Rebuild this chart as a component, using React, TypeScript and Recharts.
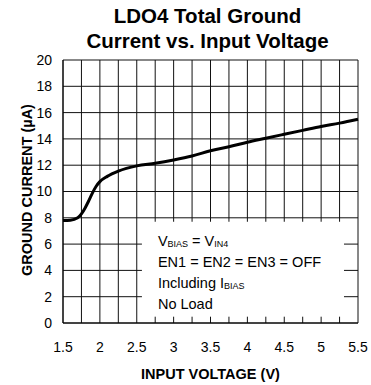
import { CartesianGrid, Line, LineChart, ReferenceArea, XAxis, YAxis } from "recharts";

// input voltage (V) and total ground current (uA)
const voltage = [1.5, 1.6, 1.7, 1.75, 1.8, 1.85, 1.9, 1.95, 2.0, 2.1, 2.25, 2.5, 2.75, 3.0, 3.25, 3.5, 3.75, 4.0, 4.25, 4.5, 4.75, 5.0, 5.25, 5.5];
const groundCurrent = [7.8, 7.82, 8.0, 8.3, 8.75, 9.3, 9.9, 10.4, 10.75, 11.15, 11.55, 11.95, 12.15, 12.4, 12.7, 13.1, 13.4, 13.75, 14.05, 14.35, 14.65, 14.95, 15.2, 15.5];

const xGridTicks = [1.5, 1.75, 2, 2.25, 2.5, 2.75, 3, 3.25, 3.5, 3.75, 4, 4.25, 4.5, 4.75, 5, 5.25, 5.5];
const xLabelTicks = [1.5, 2, 2.5, 3, 3.5, 4, 4.5, 5, 5.5];
const yTicks = [0, 2, 4, 6, 8, 10, 12, 14, 16, 18, 20];

const titleLines = ["LDO4 Total Ground", "Current vs. Input Voltage"];
const xTitle = "INPUT VOLTAGE (V)";
const yTitle = "GROUND CURRENT (µA)";

const data = voltage.map((v, i) => ({ v, i: groundCurrent[i] }));

const FONT = "'Liberation Sans', Arial, sans-serif";

// white box over the grid with the test conditions written in it
function NoteBox(props: any) {
  const { x, y, width, height } = props;
  const tx = x + 16;
  return (
    <g>
      <rect x={x} y={y} width={width} height={height} fill="#fff" stroke="none" />
      <g fontFamily={FONT} fontSize={14.5} fill="#000">
        <text x={tx} y={y + 24}>
          <tspan>V</tspan>
          <tspan fontSize={9} dy={1}>BIAS</tspan>
          <tspan dy={-1}> = V</tspan>
          <tspan fontSize={9} dy={1}>IN4</tspan>
        </text>
        <text x={tx} y={y + 45}>EN1 = EN2 = EN3 = OFF</text>
        <text x={tx} y={y + 66}>
          <tspan>Including I</tspan>
          <tspan fontSize={9} dy={1}>BIAS</tspan>
        </text>
        <text x={tx} y={y + 87}>No Load</text>
      </g>
    </g>
  );
}

function Titles() {
  return (
    <g fontFamily={FONT} fontWeight="bold" fill="#000">
      <text x={207.5} y={23} textAnchor="middle" fontSize={20.5}>{titleLines[0]}</text>
      <text x={207.5} y={48} textAnchor="middle" fontSize={20.5}>{titleLines[1]}</text>
      <text x={210.5} y={379} textAnchor="middle" fontSize={14.5}>{xTitle}</text>
      <text x={32} y={190} textAnchor="middle" fontSize={14.5} transform="rotate(-90 32 190)">{yTitle}</text>
    </g>
  );
}

export default function App() {
  return (
    <div style={{ position: "absolute", left: 0, top: 0, width: 371, height: 385, background: "#fff" }}>
      <LineChart width={371} height={385} data={data} margin={{ top: 60, right: 13, left: 0, bottom: 32 }}>
        <CartesianGrid stroke="#111" strokeWidth={1} />
        <XAxis
          dataKey="v"
          type="number"
          domain={[1.5, 5.5]}
          ticks={xGridTicks}
          interval={0}
          height={30}
          tickLine={false}
          axisLine={{ stroke: "#000" }}
          tickMargin={13}
          tick={{ fill: "#000", fontSize: 14, fontFamily: FONT }}
          tickFormatter={(t: number) => (xLabelTicks.includes(t) ? String(t) : "")}
        />
        <YAxis
          type="number"
          domain={[0, 20]}
          ticks={yTicks}
          interval={0}
          width={63}
          tickLine={false}
          axisLine={{ stroke: "#000" }}
          tickMargin={5}
          tick={{ fill: "#000", fontSize: 14, fontFamily: FONT }}
        />
        <ReferenceArea x1={2.57} x2={5.31} y1={0.48} y2={7.7} shape={NoteBox} />
        <Line type="monotone" dataKey="i" stroke="#000" strokeWidth={3} dot={false} isAnimationActive={false} />
        <Titles />
      </LineChart>
    </div>
  );
}
